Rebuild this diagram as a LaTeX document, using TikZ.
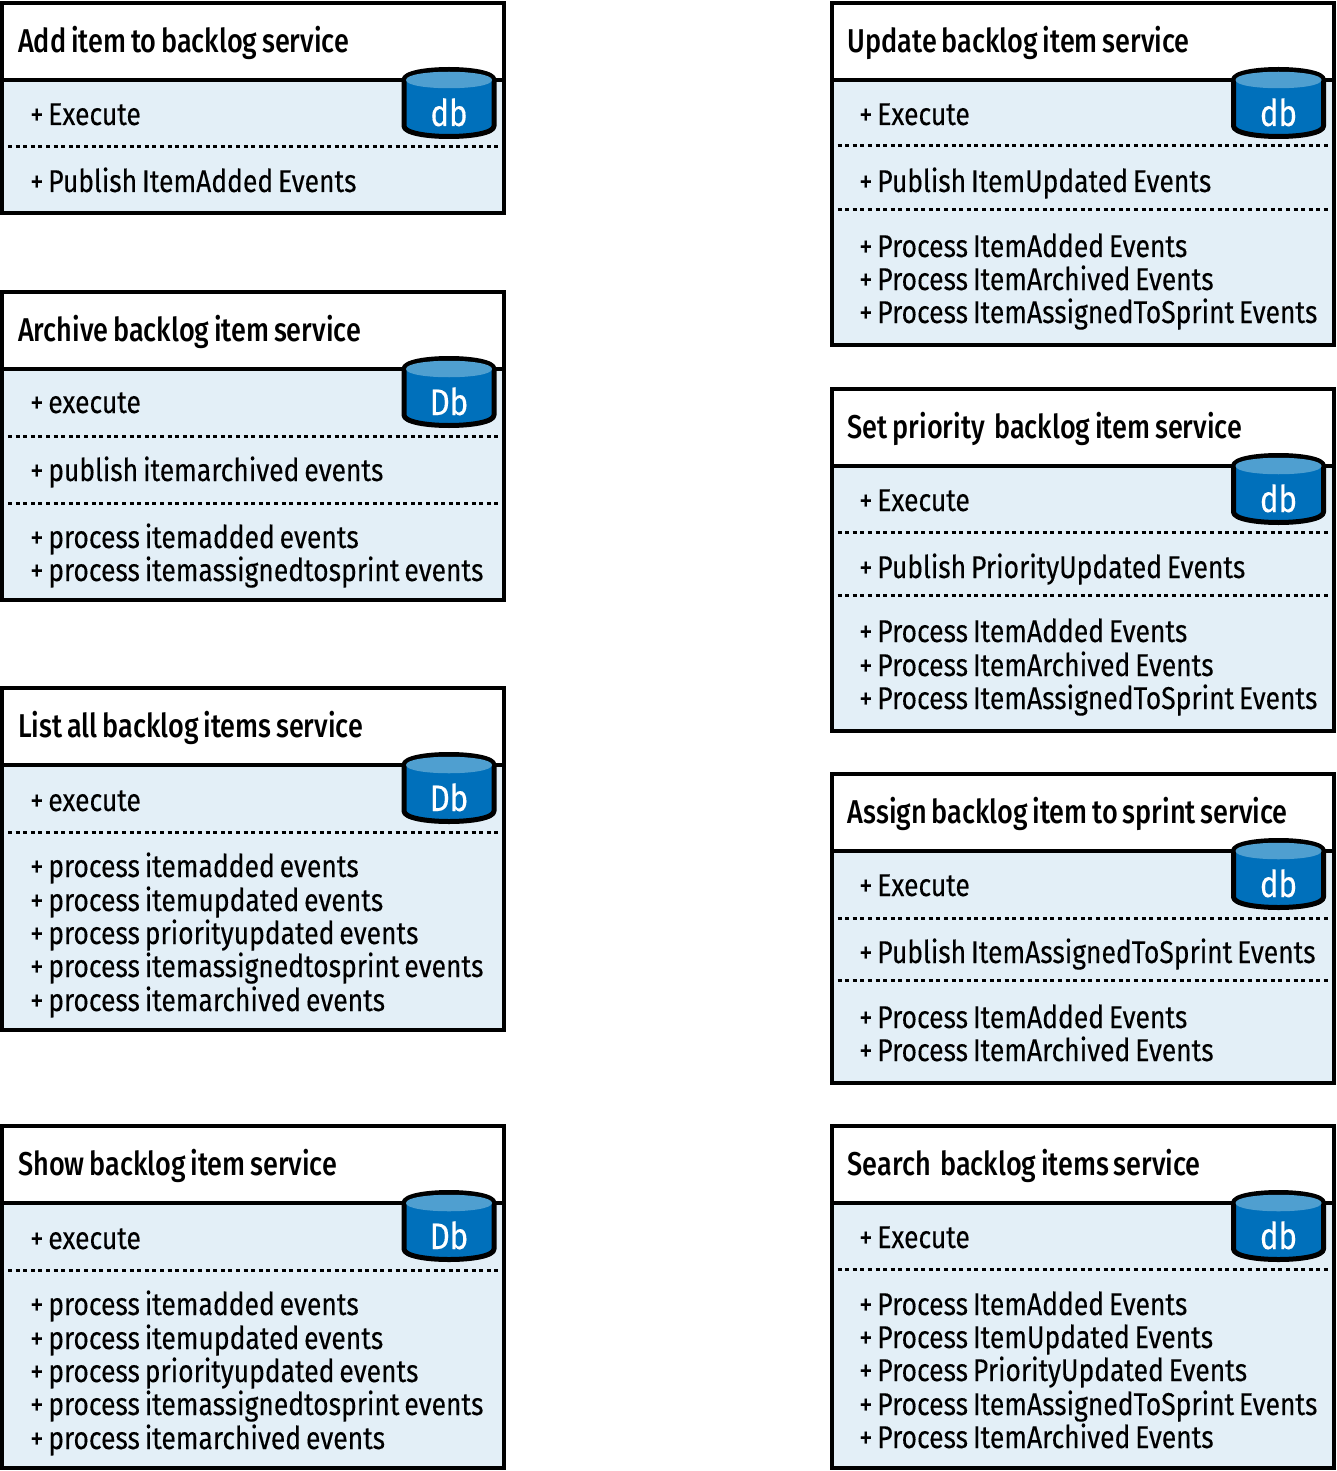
\documentclass[tikz,border=0pt]{standalone}
\usepackage{fontspec}
\setmainfont{Fira Sans}[FakeStretch=0.84,FakeBold=0.25,WordSpace=0.7]
\newfontfamily\titlefont{Fira Sans Medium}[FakeStretch=0.82,WordSpace=0.7]
\definecolor{paneblue}{HTML}{E3EFF7}
\definecolor{cylblue}{HTML}{0070BB}
\definecolor{cyltop}{HTML}{4F9FD0}
\newcounter{nodeno}
\tikzset{
  x=1pt,y=-1pt,
  titletext/.style={anchor=base west,inner sep=0pt,font=\titlefont\fontsize{33}{33}\selectfont},
  linetext/.style={anchor=base west,inner sep=0pt,font=\fontsize{31.5}{33}\selectfont},
  dbtext/.style={anchor=base,inner sep=0pt,text=white,font=\fontsize{37}{37}\selectfont},
  frame/.style={draw=black,line width=4pt},
  divider/.style={draw=black,line width=3pt,dash pattern=on 4pt off 3.6pt},
  cyl/.style={draw=black,line width=5pt,fill=cylblue,line join=round},
  cyltopface/.style={fill=cyltop},
}
% #1 x-left, #2 top, #3 bottom, #4 header line y, #5 db label, #6 title baseline, #7 title, #8 dividers
\newcommand{\svcbox}[8]{%
  \fill[paneblue] (#1,#4) rectangle (#1+502,#3);
  \draw[frame] (#1,#2) rectangle (#1+502,#3);
  \draw[frame] (#1,#4) -- (#1+502,#4);
  \foreach \dy in {#8} {\draw[divider] (#1+6,\dy) -- (#1+497,\dy);}
  \stepcounter{nodeno}
  \node[titletext] (title\arabic{nodeno}) at (#1+16,#6) {#7};
  \begin{scope}[shift={(#1+447,#2+66)}]
    \draw[cyl] (-45,11) .. controls (-45,-3) and (45,-3) .. (45,11)
      -- (45,57) .. controls (45,71) and (-45,71) .. (-45,57) -- cycle;
    \fill[cyltopface] (-43,11) .. controls (-43,0) and (43,0) .. (43,11)
      .. controls (43,22) and (-43,22) .. (-43,11) -- cycle;
    \node[dbtext] (store\arabic{nodeno}) at (0,57) {#5};
  \end{scope}
}
\newcommand{\svcline}[3]{\stepcounter{nodeno}\node[linetext] (line\arabic{nodeno}) at (#1+28,#2) {+ #3};}
\begin{document}
\begin{tikzpicture}
\useasboundingbox (0,0) rectangle (1336,1471);
% left column
\svcbox{2}{3}{213}{80}{db}{53}{Add item to backlog service}{147}
\svcline{2}{125}{Execute}
\svcline{2}{192}{Publish ItemAdded Events}

\svcbox{2}{292}{600}{369}{Db}{341}{Archive backlog item service}{436,503}
\svcline{2}{413}{execute}
\svcline{2}{481}{publish itemarchived events}
\svcline{2}{548}{process itemadded events}
\svcline{2}{581}{process itemassignedtosprint events}

\svcbox{2}{688}{1030}{765}{Db}{737}{List all backlog items service}{832}
\svcline{2}{811}{execute}
\svcline{2}{877}{process itemadded events}
\svcline{2}{911}{process itemupdated events}
\svcline{2}{944}{process priorityupdated events}
\svcline{2}{977}{process itemassignedtosprint events}
\svcline{2}{1011}{process itemarchived events}

\svcbox{2}{1126}{1468}{1203}{Db}{1175}{Show backlog item service}{1270}
\svcline{2}{1249}{execute}
\svcline{2}{1315}{process itemadded events}
\svcline{2}{1349}{process itemupdated events}
\svcline{2}{1382}{process priorityupdated events}
\svcline{2}{1415}{process itemassignedtosprint events}
\svcline{2}{1449}{process itemarchived events}

% right column
\svcbox{831.5}{3}{345}{80}{db}{53}{Update backlog item service}{146,210}
\svcline{831}{125}{Execute}
\svcline{831}{192}{Publish ItemUpdated Events}
\svcline{831}{257}{Process ItemAdded Events}
\svcline{831}{290}{Process ItemArchived Events}
\svcline{831}{323}{Process ItemAssignedToSprint Events}

\svcbox{831.5}{389}{731}{466}{db}{438}{Set priority\ \ backlog item service}{532,595}
\svcline{831}{511}{Execute}
\svcline{831}{578}{Publish PriorityUpdated Events}
\svcline{831}{642}{Process ItemAdded Events}
\svcline{831}{676}{Process ItemArchived Events}
\svcline{831}{709}{Process ItemAssignedToSprint Events}

\svcbox{831.5}{774}{1083}{851}{db}{823}{Assign backlog item to sprint service}{918,980}
\svcline{831}{896}{Execute}
\svcline{831}{963}{Publish ItemAssignedToSprint Events}
\svcline{831}{1028}{Process ItemAdded Events}
\svcline{831}{1061}{Process ItemArchived Events}

\svcbox{831.5}{1126}{1468}{1203}{db}{1175}{Search\ \ backlog items service}{1269}
\svcline{831}{1248}{Execute}
\svcline{831}{1315}{Process ItemAdded Events}
\svcline{831}{1348}{Process ItemUpdated Events}
\svcline{831}{1381}{Process PriorityUpdated Events}
\svcline{831}{1415}{Process ItemAssignedToSprint Events}
\svcline{831}{1448}{Process ItemArchived Events}
\end{tikzpicture}
\end{document}
